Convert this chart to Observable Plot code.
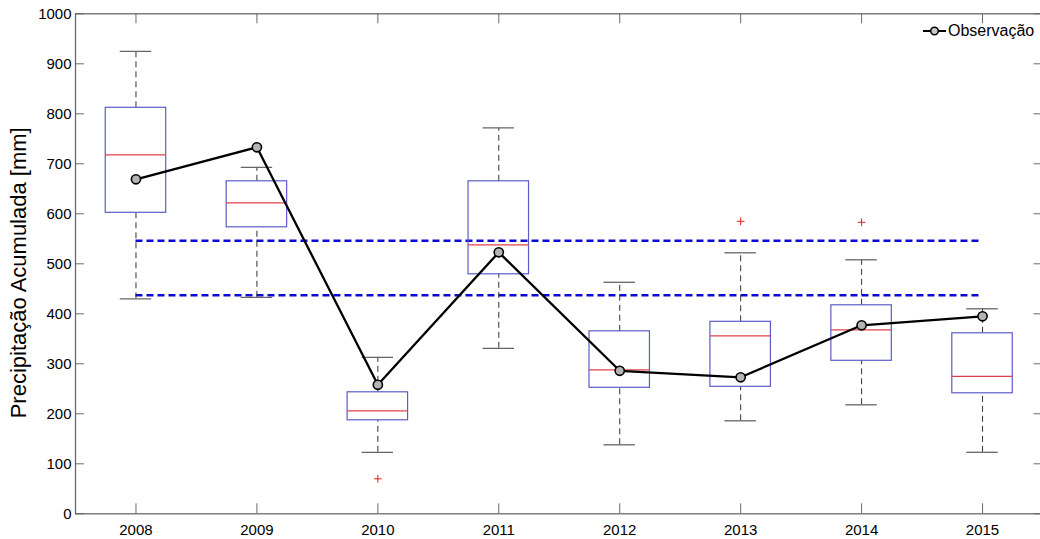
<!DOCTYPE html>
<html>
<head>
<meta charset="utf-8">
<script src="https://cdn.jsdelivr.net/npm/d3@7"></script>
<script src="https://cdn.jsdelivr.net/npm/@observablehq/plot@0.6"></script>
<style>
  html, body { margin: 0; padding: 0; background: #fff; overflow: hidden; }
  #wrap { position: relative; width: 1040px; height: 539px; font-family: "Liberation Sans", Arial, Helvetica, sans-serif; }
  #legend { position: absolute; left: 922px; top: 22px; display: flex; align-items: center; font-size: 16px; color: #000; }
  #legend svg { margin-right: 1px; }
</style>
</head>
<body>
<div id="wrap"><div id="legend"></div></div>
<script>
// ---- data ----
const years        = [2008, 2009, 2010, 2011, 2012, 2013, 2014, 2015];
const whiskerLow   = [430, 433, 123, 331, 138, 186, 218, 123];
const q1           = [602, 573, 187, 479, 252, 254, 306, 241];
const median       = [718, 622, 206, 538, 288, 356, 368, 275];
const q3           = [812, 665, 243, 665, 365, 384, 417, 361];
const whiskerHigh  = [925, 693, 313, 772, 463, 522, 508, 410];
const outlierYears = [2010, 2013, 2014];
const outlierVals  = [70, 585, 583];
const observed     = [669, 733, 258, 523, 286, 273, 377, 395];
const refLines     = [546, 437];
const yTicks       = [0, 100, 200, 300, 400, 500, 600, 700, 800, 900, 1000];
const yLabel       = "Precipitação Acumulada [mm]";
const legendLabel  = "Observação";

// ---- tables built from the arrays ----
const boxes = years.map((year, i) => ({year, lo: whiskerLow[i], q1: q1[i], med: median[i], q3: q3[i], hi: whiskerHigh[i]}));
const outliers = outlierYears.map((year, i) => ({year, value: outlierVals[i]}));
const obs = years.map((year, i) => ({year, value: observed[i]}));

const xMin = years[0] - 0.5, xMax = years[years.length - 1] + 0.5;
const halfBox = 0.25, halfCap = 0.13;
const tickLenX = 0.074, tickLenY = 20;
const axisColor = "#6a6a6a";

const chart = Plot.plot({
  width: 1040,
  height: 539,
  marginLeft: 75,
  marginRight: -2.5,
  marginTop: 13.3,
  marginBottom: 25.7,
  style: {fontFamily: "'Liberation Sans', Arial, Helvetica, sans-serif", background: "white", overflow: "visible"},
  x: {type: "linear", domain: [xMin, xMax]},
  y: {domain: [0, 1000]},
  marks: [
    // reference dashed lines
    Plot.ruleY(refLines, {y: d => d, x1: years[0], x2: years[years.length - 1], stroke: "#0a0ad8", strokeWidth: 2.6, strokeDasharray: "7,4"}),
    // whiskers
    Plot.ruleX(boxes, {x: "year", y1: "q3", y2: "hi", stroke: "#333", strokeWidth: 1, strokeDasharray: "6,4"}),
    Plot.ruleX(boxes, {x: "year", y1: "lo", y2: "q1", stroke: "#333", strokeWidth: 1, strokeDasharray: "6,4"}),
    Plot.ruleY(boxes, {y: "hi", x1: d => d.year - halfCap, x2: d => d.year + halfCap, stroke: "#666", strokeWidth: 1.3}),
    Plot.ruleY(boxes, {y: "lo", x1: d => d.year - halfCap, x2: d => d.year + halfCap, stroke: "#666", strokeWidth: 1.3}),
    // boxes
    Plot.rect(boxes, {x1: d => d.year - halfBox, x2: d => d.year + halfBox, y1: "q1", y2: "q3", fill: "none", stroke: "#5c5cc8", strokeWidth: 1.2}),
    Plot.ruleY(boxes, {y: "med", x1: d => d.year - halfBox, x2: d => d.year + halfBox, stroke: "#e0404c", strokeWidth: 1.2}),
    // outliers
    Plot.dot(outliers, {x: "year", y: "value", symbol: "plus", r: 2.6, stroke: "#e02020", strokeWidth: 1}),
    // observation series
    Plot.line(obs, {x: "year", y: "value", stroke: "#000", strokeWidth: 2.3}),
    Plot.dot(obs, {x: "year", y: "value", r: 4.6, fill: "#b4b4b4", stroke: "#000", strokeWidth: 1.6}),
    // frame and inward ticks
    Plot.frame({stroke: axisColor, strokeWidth: 1.3}),
    Plot.ruleY(yTicks, {y: d => d, x1: xMin, x2: xMin + tickLenX, stroke: axisColor}),
    Plot.ruleY(yTicks, {y: d => d, x1: xMax - tickLenX, x2: xMax, stroke: axisColor}),
    Plot.ruleX(years, {x: d => d, y1: 0, y2: tickLenY, stroke: axisColor}),
    Plot.ruleX(years, {x: d => d, y1: 1000, y2: 1000 - tickLenY, stroke: axisColor}),
    // axes labels
    Plot.axisX(years, {tickSize: 0, tickPadding: 11, tickFormat: d => String(d), fontSize: 15, label: null, fill: "#000"}),
    Plot.axisY(yTicks, {tickSize: 0, tickPadding: 4, tickFormat: d => String(d), fontSize: 15, label: null, fill: "#000"}),
    Plot.text([yLabel], {frameAnchor: "left", rotate: -90, dx: -57, dy: 9, fontSize: 22, fill: "#000", textAnchor: "middle", letterSpacing: "1.2px"})
  ]
});

const wrap = document.getElementById("wrap");
wrap.insertBefore(chart, wrap.firstChild);

// legend (inside the plot area, top right)
const legend = document.getElementById("legend");
legend.innerHTML = `<svg width="25" height="12"><line x1="1" y1="6" x2="24" y2="6" stroke="#000" stroke-width="2"/><circle cx="12.5" cy="6" r="3.8" fill="#c8c8c8" stroke="#000" stroke-width="1.5"/></svg><span>${legendLabel}</span>`;
</script>
</body>
</html>
